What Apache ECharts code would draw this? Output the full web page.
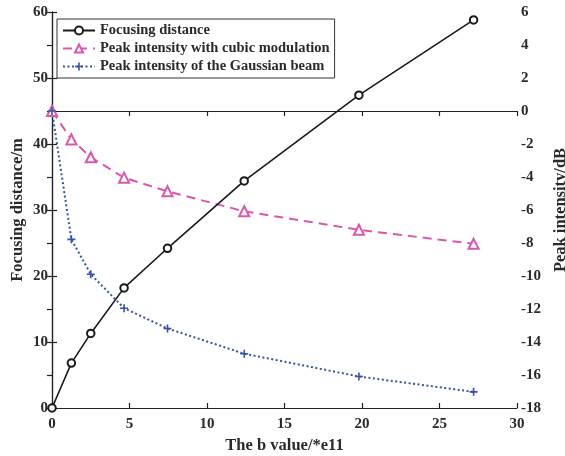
<!DOCTYPE html>
<html>
<head>
<meta charset="utf-8">
<script src="https://cdn.jsdelivr.net/npm/echarts@6/dist/echarts.min.js"></script>
<style>
  html, body { margin: 0; padding: 0; background: #fff; }
  #chart { width: 565px; height: 456px; }
</style>
</head>
<body>
<div id="chart"></div>
<script>
// b value (×1e11) at each simulated point
const bValues = [0, 1.25, 2.5, 4.65, 7.45, 12.4, 19.8, 27.2];
// focusing distance in metres
const focusDist = [0, 6.8, 11.3, 18.2, 24.2, 34.4, 47.4, 58.8];
// peak intensity in dB
const cubicPeak = [0, -1.72, -2.8, -4.04, -4.87, -6.08, -7.2, -8.05];
const gaussPeak = [0, -7.78, -9.89, -11.95, -13.18, -14.71, -16.09, -17.02];

const xTicks = { min: 0, max: 30, interval: 5 };
const leftTicks = { min: 0, max: 60, interval: 10 };
const rightTicks = { min: -18, max: 6, interval: 2 };

const pairs = (ys) => bValues.map((x, i) => [x, ys[i]]);

const FONT = '"Liberation Serif", "DejaVu Serif", serif';
const TEXT = '#2a2a2a';
const plusPath = 'path://M4,0 H6 V4 H10 V6 H6 V10 H4 V6 H0 V4 H4 Z';

const axisLineStyle = { lineStyle: { color: '#222', width: 1.2 } };
const tickStyle = { show: true, inside: true, length: 5, lineStyle: { color: '#222', width: 1.2 } };
const tickLabel = { fontFamily: FONT, fontWeight: 'bold', fontSize: 15, color: TEXT };
const axisName = { fontFamily: FONT, fontWeight: 'bold', fontSize: 16.5, color: TEXT };

const chart = echarts.init(document.getElementById('chart'));
chart.setOption({
  animation: false,
  backgroundColor: '#fff',
  grid: { left: 52, right: 48, top: 12, bottom: 48, containLabel: false, outerBoundsMode: 'none' },
  legend: {
    orient: 'vertical',
    left: 57,
    top: 19,
    itemWidth: 32,
    itemHeight: 10,
    itemGap: 3,
    padding: [4, 5, 4, 5],
    borderColor: '#333',
    borderWidth: 1,
    backgroundColor: '#fff',
    textStyle: { fontFamily: FONT, fontWeight: 'bold', fontSize: 14.5, lineHeight: 14, color: TEXT },
    data: ['Focusing distance', 'Peak intensity with cubic modulation', 'Peak intensity of the Gaussian beam']
  },
  xAxis: [
    {
      type: 'value', position: 'bottom',
      min: xTicks.min, max: xTicks.max, interval: xTicks.interval,
      name: 'The b value/*e11', nameLocation: 'middle', nameGap: 26,
      nameTextStyle: axisName,
      axisLine: axisLineStyle,
      axisTick: tickStyle,
      axisLabel: Object.assign({ margin: 9 }, tickLabel),
      splitLine: { show: false }
    },
    {
      type: 'value', position: 'top',
      min: xTicks.min, max: xTicks.max, interval: xTicks.interval,
      axisLine: axisLineStyle,
      axisTick: tickStyle,
      axisLabel: { show: false },
      splitLine: { show: false }
    }
  ],
  yAxis: [
    {
      type: 'value', position: 'left',
      min: leftTicks.min, max: leftTicks.max, interval: leftTicks.interval,
      name: 'Focusing distance/m', nameLocation: 'middle', nameGap: 26,
      nameMoveOverlap: false,
      nameTextStyle: axisName,
      axisLine: Object.assign({ show: true }, axisLineStyle),
      axisTick: tickStyle,
      axisLabel: Object.assign({ margin: 4 }, tickLabel),
      splitLine: { show: false }
    },
    {
      type: 'value', position: 'right',
      min: rightTicks.min, max: rightTicks.max, interval: rightTicks.interval,
      name: 'Peak intensity/dB', nameLocation: 'middle', nameGap: 32,
      nameRotate: 90,
      nameTextStyle: axisName,
      axisLine: Object.assign({ show: true }, axisLineStyle),
      axisTick: tickStyle,
      axisLabel: Object.assign({ margin: 4 }, tickLabel),
      splitLine: { show: false }
    }
  ],
  series: [
    {
      name: 'Focusing distance',
      type: 'line',
      xAxisIndex: 0, yAxisIndex: 0,
      data: pairs(focusDist),
      symbol: 'emptyCircle', symbolSize: 7.5,
      lineStyle: { color: '#1a1a1a', width: 1.6 },
      itemStyle: { color: '#1a1a1a', borderColor: '#1a1a1a', borderWidth: 1.6 },
      z: 3
    },
    {
      name: 'Peak intensity with cubic modulation',
      type: 'line',
      xAxisIndex: 0, yAxisIndex: 1,
      data: pairs(cubicPeak),
      symbol: 'emptyTriangle', symbolSize: 10,
      lineStyle: { color: '#dc56aa', width: 2, type: [9, 6] },
      itemStyle: { color: '#dc56aa', borderColor: '#dc56aa', borderWidth: 1.6 },
      z: 2
    },
    {
      name: 'Peak intensity of the Gaussian beam',
      type: 'line',
      xAxisIndex: 0, yAxisIndex: 1,
      data: pairs(gaussPeak),
      symbol: plusPath, symbolSize: 8,
      lineStyle: { color: '#3552ac', width: 2, type: [2, 2.5] },
      itemStyle: { color: '#3552ac', borderWidth: 0 },
      z: 2
    }
  ]
});
</script>
</body>
</html>
